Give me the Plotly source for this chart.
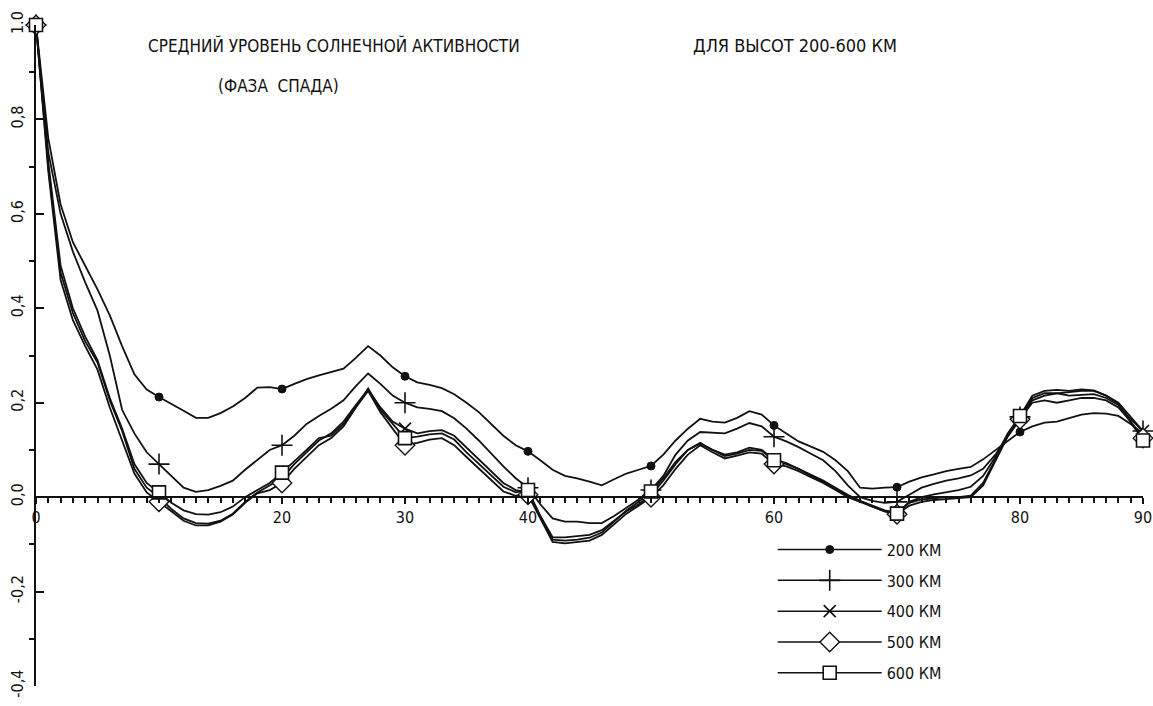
import plotly.graph_objects as go

# lag / distance axis (0..90, step 1)
x_vals = list(range(0, 91))

s200 = [1.0, 0.76, 0.62, 0.54, 0.49, 0.44, 0.385, 0.32, 0.26, 0.228, 0.212,
        0.198, 0.183, 0.168, 0.168, 0.178, 0.192, 0.21, 0.232, 0.233, 0.229,
        0.24, 0.25, 0.258, 0.265, 0.272, 0.295, 0.32, 0.3, 0.275, 0.256,
        0.243, 0.238, 0.231, 0.218, 0.2, 0.18, 0.155, 0.13, 0.11, 0.097,
        0.078, 0.058, 0.045, 0.04, 0.033, 0.025, 0.038, 0.05, 0.058, 0.066,
        0.09, 0.12, 0.145, 0.166, 0.16, 0.158, 0.168, 0.182, 0.175, 0.152,
        0.135, 0.118, 0.107, 0.096, 0.078, 0.055, 0.02, 0.018, 0.02, 0.021,
        0.033, 0.042, 0.048, 0.055, 0.06, 0.064, 0.08, 0.1, 0.12, 0.138,
        0.15, 0.158, 0.16, 0.167, 0.175, 0.178, 0.177, 0.172, 0.155, 0.135]

s300 = [1.0, 0.73, 0.6, 0.52, 0.455, 0.395, 0.30, 0.185, 0.135, 0.095, 0.07,
        0.045, 0.02, 0.011, 0.015, 0.024, 0.035, 0.058, 0.08, 0.1, 0.11,
        0.13, 0.155, 0.172, 0.187, 0.205, 0.235, 0.262, 0.24, 0.215, 0.2,
        0.19, 0.187, 0.182, 0.167, 0.145, 0.12, 0.092, 0.065, 0.04, 0.02,
        -0.015, -0.045, -0.052, -0.052, -0.055, -0.055, -0.04, -0.022, -0.005, 0.015,
        0.045, 0.09, 0.12, 0.138, 0.137, 0.135, 0.145, 0.157, 0.15, 0.128,
        0.118, 0.106, 0.092, 0.078, 0.055, 0.025, 0.0, -0.008, -0.012, -0.01,
        0.005, 0.02, 0.028, 0.035, 0.04, 0.046, 0.06, 0.09, 0.13, 0.17,
        0.205, 0.215, 0.22, 0.222, 0.225, 0.225, 0.215, 0.2, 0.17, 0.14]

s400 = [1.0, 0.70, 0.475, 0.39, 0.33, 0.285, 0.205, 0.14, 0.06, 0.02, 0.0,
        -0.025, -0.045, -0.055, -0.056, -0.05, -0.035, -0.01, 0.01, 0.025, 0.04,
        0.07, 0.095, 0.12, 0.135, 0.16, 0.195, 0.228, 0.19, 0.16, 0.145,
        0.135, 0.14, 0.142, 0.13, 0.105, 0.08, 0.055, 0.03, 0.015, 0.01,
        -0.04, -0.085, -0.085, -0.083, -0.08, -0.07, -0.05, -0.03, -0.015, 0.005,
        0.035, 0.07, 0.1, 0.115, 0.1, 0.09, 0.095, 0.105, 0.1, 0.08,
        0.072, 0.06, 0.047, 0.035, 0.02, 0.005, -0.008, -0.018, -0.028, -0.033,
        -0.012, -0.005, -0.002, 0.0, 0.0, 0.003, 0.03, 0.08, 0.13, 0.17,
        0.21, 0.22, 0.22, 0.215, 0.217, 0.218, 0.21, 0.195, 0.165, 0.14]

s500 = [1.0, 0.69, 0.46, 0.375, 0.32, 0.27, 0.19, 0.12, 0.05, 0.01, -0.01,
        -0.03, -0.05, -0.06, -0.06, -0.052, -0.037, -0.012, 0.008, 0.015, 0.03,
        0.06, 0.085, 0.11, 0.125, 0.15, 0.19, 0.225, 0.18, 0.145, 0.11,
        0.115, 0.122, 0.125, 0.11, 0.085, 0.06, 0.035, 0.012, 0.003, 0.005,
        -0.045, -0.095, -0.098, -0.095, -0.092, -0.08, -0.058, -0.035, -0.018, 0.0,
        0.025, 0.06, 0.09, 0.11, 0.095, 0.082, 0.088, 0.095, 0.092, 0.07,
        0.065, 0.055, 0.042, 0.03, 0.015, 0.0, -0.01, -0.02, -0.03, -0.036,
        -0.018, -0.01, -0.006, -0.004, -0.002, 0.0, 0.025, 0.075, 0.128, 0.165,
        0.2, 0.205, 0.2, 0.205, 0.21, 0.21, 0.205, 0.19, 0.16, 0.125]

s600 = [1.0, 0.71, 0.49, 0.40, 0.34, 0.29, 0.21, 0.145, 0.07, 0.03, 0.01,
        -0.012, -0.028, -0.036, -0.037, -0.032, -0.02, 0.0, 0.015, 0.03, 0.052,
        0.075, 0.1, 0.125, 0.13, 0.155, 0.19, 0.23, 0.185, 0.155, 0.125,
        0.128, 0.133, 0.135, 0.122, 0.095, 0.07, 0.045, 0.022, 0.01, 0.015,
        -0.04, -0.09, -0.092, -0.09, -0.086, -0.075, -0.052, -0.028, -0.01, 0.012,
        0.04, 0.075, 0.1, 0.113, 0.1, 0.087, 0.092, 0.1, 0.098, 0.078,
        0.07, 0.06, 0.045, 0.033, 0.018, 0.003, -0.008, -0.02, -0.03, -0.035,
        -0.01, 0.0, 0.006, 0.01, 0.015, 0.022, 0.045, 0.085, 0.135, 0.172,
        0.215, 0.225, 0.227, 0.225, 0.228, 0.226, 0.215, 0.198, 0.16, 0.12]

series_names = ["200 КМ", "300 КМ", "400 КМ", "500 КМ", "600 КМ"]
series_vals = [s200, s300, s400, s500, s600]

y_tickvals = [-0.4, -0.2, 0.0, 0.2, 0.4, 0.6, 0.8, 1.0]
y_ticktext = ["-0,4", "-0,2", "0,0", "0,2", "0,4", "0,6", "0,8", "1.0"]
y_minor = [-0.3, -0.1, 0.1, 0.3, 0.5, 0.7, 0.9]
x_tickvals = [0, 20, 30, 40, 60, 80, 90]
x_ticktext = ["0", "20", "30", "40", "60", "80", "90"]

title_main = "СРЕДНИЙ УРОВЕНЬ СОЛНЕЧНОЙ АКТИВНОСТИ"
title_right = "ДЛЯ ВЫСОТ 200-600 КМ"
title_sub = "(ФАЗА  СПАДА)"

for s in series_vals:
    assert len(s) == len(x_vals)

INK = "#111111"
FONT = "DejaVu Sans Condensed, DejaVu Sans, sans-serif"
marker_styles = [
    dict(symbol="circle", size=8, color=INK, line=dict(color=INK, width=1)),
    dict(symbol="cross-thin", size=15, color=INK, line=dict(color=INK, width=1.6)),
    dict(symbol="x-thin", size=12, color=INK, line=dict(color=INK, width=1.6)),
    dict(symbol="diamond", size=15, color="white", line=dict(color=INK, width=1.4)),
    dict(symbol="square", size=13, color="white", line=dict(color=INK, width=1.6)),
]

fig = go.Figure()
for name, vals, ms in zip(series_names, series_vals, marker_styles):
    fig.add_trace(go.Scatter(x=x_vals, y=vals, mode="lines",
                             line=dict(color=INK, width=1.8),
                             showlegend=False, hoverinfo="skip", cliponaxis=False))
for name, vals, ms in zip(series_names, series_vals, marker_styles):
    fig.add_trace(go.Scatter(x=x_vals[::10], y=vals[::10], mode="markers",
                             marker=ms, showlegend=False, cliponaxis=False))
for name, vals, ms in zip(series_names, series_vals, marker_styles):
    fig.add_trace(go.Scatter(x=[None], y=[None], mode="lines+markers", name=name,
                             line=dict(color=INK, width=1.5), marker=ms,
                             legendgroup=name))

Y0, Y1 = -0.4, 1.0
fig.update_layout(
    width=1153, height=706,
    margin=dict(l=36, r=10, t=25, b=20),
    paper_bgcolor="white", plot_bgcolor="white",
    font=dict(family=FONT, size=15, color=INK),
    xaxis=dict(range=[0, 90], anchor="free", position=(0 - Y0) / (Y1 - Y0),
               showline=True, linecolor=INK, linewidth=2, showgrid=False, zeroline=False,
               tickmode="array", tickvals=x_tickvals, ticktext=x_ticktext,
               ticks="outside", ticklen=6, tickwidth=2, tickcolor=INK,
               minor=dict(dtick=1, tick0=0, ticks="outside", ticklen=5, tickwidth=1.5, tickcolor=INK),
               tickfont=dict(size=16, family=FONT), ticklabeloverflow="allow",
               automargin=False),
    yaxis=dict(range=[Y0, Y1], domain=[0, 1],
               showline=True, linecolor=INK, linewidth=2, showgrid=False, zeroline=False,
               tickmode="array", tickvals=y_tickvals, ticktext=y_ticktext, tickangle=-90,
               ticks="inside", ticklen=8, tickwidth=2, tickcolor=INK,
               minor=dict(tickvals=y_minor, ticks="outside", ticklen=5, tickwidth=1.5, tickcolor=INK),
               tickfont=dict(size=16, family=FONT), ticklabelstandoff=5,
               ticklabeloverflow="allow", automargin=False),
    legend=dict(x=0.6655, y=0.232, xanchor="left", yanchor="top",
                bgcolor="rgba(0,0,0,0)", font=dict(size=16, family=FONT),
                itemwidth=104, tracegroupgap=7),
    showlegend=True,
    annotations=[
        dict(text=title_main, xref="paper", yref="paper", x=0.269, y=0.988,
             xanchor="center", showarrow=False, font=dict(size=17, family=FONT)),
        dict(text=title_right, xref="paper", yref="paper", x=0.686, y=0.988,
             xanchor="center", showarrow=False, font=dict(size=18, family=FONT)),
        dict(text=title_sub, xref="paper", yref="paper", x=0.2195, y=0.926,
             xanchor="center", showarrow=False, font=dict(size=17, family=FONT)),
    ],
)

fig.write_html("out.html", config={"displayModeBar": False},
               post_script="document.body.style.margin='0';")
